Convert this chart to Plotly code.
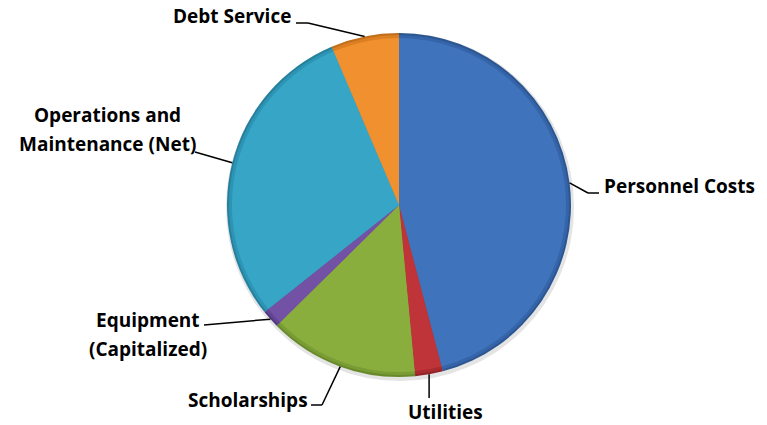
import numpy as np
import plotly.graph_objects as go

# Budget shares (percent), clockwise from 12 o'clock
categories = ["Personnel Costs", "Utilities", "Scholarships", "Equipment (Capitalized)",
              "Operations and Maintenance (Net)", "Debt Service"]
shares = [45.9, 2.6, 14.1, 1.7, 29.3, 6.4]
label_lines = [["Personnel Costs"], ["Utilities"], ["Scholarships"], ["Equipment", "(Capitalized)"],
               ["Operations and", "Maintenance (Net)"], ["Debt Service"]]
colors = ["#3F74BD", "#BE3439", "#8AAE3E", "#7352A6", "#37A6C6", "#F0902E"]
rims_mid = ["#3565A8", "#A82B30", "#7A9C34", "#634593", "#2E94B4", "#DC7F22"]
rims = ["#2B5692", "#912328", "#688A2A", "#523880", "#25809E", "#C26E18"]

W, H = 767, 425
CX, CY, R = 399, 205, 172   # pie centre and radius in pixels
FONT = dict(family="Open Sans, sans-serif", size=19, color="black")

def px(x, y):
    return x / W, 1 - y / H

def dom(cx, cy, r):
    a = px(cx - r, cy - r)
    b = px(cx + r, cy + r)
    return dict(x=[a[0], b[0]], y=[b[1], a[1]])

fig = go.Figure()
# faint drop shadow
fig.add_trace(go.Pie(values=[1], sort=False, marker=dict(colors=["#E4E4E4"], line=dict(width=0)),
                     textinfo="none", hoverinfo="skip", showlegend=False, domain=dom(CX + 1, CY + 2, R + 2)))
# shaded rim layers, main slices on top
for cols, inset in [(rims, 0), (rims_mid, 2), (colors, 5)]:
    fig.add_trace(go.Pie(values=shares, labels=categories, sort=False, direction="clockwise",
                         marker=dict(colors=cols, line=dict(width=0)), textinfo="none",
                         hoverinfo="skip" if inset < 5 else "label+percent",
                         showlegend=False, domain=dom(CX, CY, R - inset)))

# leader lines: start on the rim at each slice's mid-angle, then run to the label
frac = np.array(shares) / sum(shares)
mid = (np.cumsum(frac) - frac / 2) * 2 * np.pi
leaders = {
    "Personnel Costs": [(588, 193), (599, 193)],
    "Utilities": [(None, 398)],
    "Scholarships": [(322, 405), (311, 405)],
    "Equipment (Capitalized)": [(204, 325)],
    "Operations and Maintenance (Net)": [(195, 152)],
    "Debt Service": [(308, 23), (296, 23)],
}
for cat, ang in zip(categories, mid):
    sx = CX + R * np.sin(ang)
    sy = CY - R * np.cos(ang)
    pts = [(sx, sy)] + [(sx if x is None else x, y) for (x, y) in leaders[cat]]
    for (ax, ay), (bx, by) in zip(pts[:-1], pts[1:]):
        a, b = px(ax, ay), px(bx, by)
        fig.add_shape(type="line", xref="paper", yref="paper", x0=a[0], y0=a[1], x1=b[0], y1=b[1],
                      line=dict(color="black", width=1.5))

# label anchor (x, y of first line), alignment
label_pos = {
    "Personnel Costs": (602, 186, "left"),
    "Utilities": (445, 412, "center"),
    "Scholarships": (248, 400, "center"),
    "Equipment (Capitalized)": (148, 320, "center"),
    "Operations and Maintenance (Net)": (107, 115, "center"),
    "Debt Service": (232, 16, "center"),
}
LINE_GAP = 29
for cat, lines in zip(categories, label_lines):
    x, y, al = label_pos[cat]
    for i, line in enumerate(lines):
        p = px(x, y + i * LINE_GAP)
        fig.add_annotation(x=p[0], y=p[1], xref="paper", yref="paper", text="<b>" + line + "</b>",
                           showarrow=False, xanchor=al, yanchor="middle", font=FONT)

fig.update_layout(width=W, height=H, margin=dict(l=0, r=0, t=0, b=0),
                  paper_bgcolor="white", plot_bgcolor="white")
fig.write_html("out.html")
